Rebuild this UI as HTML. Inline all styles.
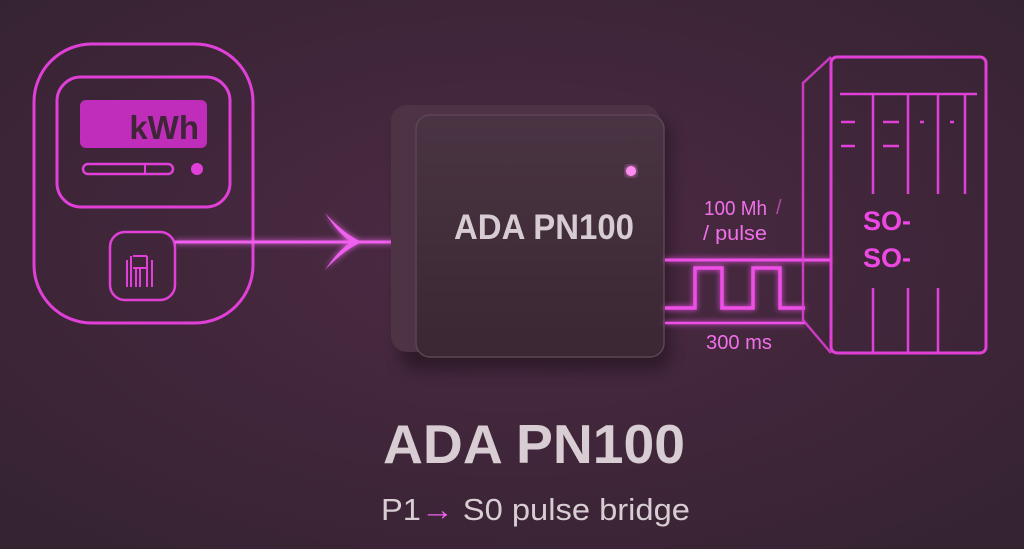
<!DOCTYPE html>
<html><head><meta charset="utf-8"><style>
html,body{margin:0;padding:0;width:1024px;height:549px;overflow:hidden;background:#3b2535}
svg{display:block}
</style></head><body>
<svg width="1024" height="549" viewBox="0 0 1024 549" xmlns="http://www.w3.org/2000/svg" font-family="Liberation Sans, sans-serif">
<defs>
<radialGradient id="bg" cx="0.5" cy="0.45" r="0.7">
<stop offset="0" stop-color="#4d2a44"/><stop offset="1" stop-color="#352331"/>
</radialGradient>
<linearGradient id="face" x1="0" y1="0" x2="0" y2="1">
<stop offset="0" stop-color="#4a3443"/><stop offset="1" stop-color="#3a2733"/>
</linearGradient>
<filter id="glow" x="-20%" y="-20%" width="140%" height="140%"><feGaussianBlur stdDeviation="3" result="b"/><feMerge><feMergeNode in="b"/><feMergeNode in="SourceGraphic"/></feMerge></filter>
<filter id="sh" x="-20%" y="-20%" width="140%" height="140%"><feGaussianBlur stdDeviation="8"/></filter>
</defs>
<rect width="1024" height="549" fill="url(#bg)"/>
<g fill="none" stroke="#e040d8" stroke-width="3">
<rect x="34" y="44" width="219" height="279" rx="58"/>
<rect x="57" y="77" width="173" height="130" rx="24"/>
<rect x="83" y="164" width="90" height="10" rx="5" stroke-width="2.5"/>
<line x1="145" y1="164" x2="145" y2="174" stroke-width="2"/>
<rect x="110" y="232" width="65" height="68" rx="15" stroke-width="2.5"/>
<g stroke-width="2"><path d="M127 260v27M131 256v31M133 256h14M136 268v19M140 268v19M147 256v31M152 260v27M133 268h14"/></g>
</g>
<rect x="80" y="100" width="127" height="48" rx="6" fill="#c02dbb"/>
<text x="199" y="139" text-anchor="end" font-size="33" font-weight="bold" fill="#3e2537">kWh</text>
<circle cx="197" cy="169" r="6" fill="#e040d8"/>
<g filter="url(#glow)">
<line x1="175" y1="242" x2="400" y2="242" stroke="#f060ee" stroke-width="3"/>
<path d="M325 213 Q345 235 362 242 Q345 249 325 270 Q340 248 352 242 Q340 236 325 213Z" fill="#f060ee"/>
</g>
<rect x="400" y="120" width="270" height="250" rx="18" fill="#000" opacity="0.35" filter="url(#sh)"/>
<rect x="391" y="105" width="269" height="247" rx="16" fill="#4d3343"/>
<rect x="416" y="115" width="248" height="242" rx="14" fill="url(#face)" stroke="#5d4556" stroke-width="1.5"/>
<circle cx="631" cy="171" r="5" fill="#ff8cf0" filter="url(#glow)"/>
<text x="544" y="239" text-anchor="middle" font-size="35" font-weight="bold" fill="#d6ccd2" textLength="180" lengthAdjust="spacingAndGlyphs">ADA PN100</text>
<g stroke="#ee50e6" fill="none" filter="url(#glow)">
<line x1="665" y1="260" x2="831" y2="260" stroke-width="3"/>
<path d="M665 308 H695 V268 H722 V308 H753 V268 H780 V308 H805" stroke-width="3.5"/>
<line x1="665" y1="323" x2="805" y2="323" stroke-width="2.5"/>
</g>
<g fill="#f070ea" font-size="20">
<text x="704" y="215" textLength="63" lengthAdjust="spacingAndGlyphs">100 Mh</text><text x="776" y="214" fill="#b04aa8">/</text>
<text x="703" y="240" textLength="64" lengthAdjust="spacingAndGlyphs">/ pulse</text>
<text x="706" y="349" textLength="66" lengthAdjust="spacingAndGlyphs">300 ms</text>
</g>
<g fill="none" stroke="#e040d8" stroke-width="3">
<path d="M831 57 L803 83 V320 L831 353" stroke-width="2.5" opacity="0.85"/>
<rect x="831" y="57" width="155" height="296" rx="6"/>
<line x1="840" y1="94" x2="977" y2="94" stroke-width="2.5"/>
<path d="M873 94V194M908 94V194M938 94V194M965 94V194M873 288V353M908 288V353M938 288V353" stroke-width="2.5"/>
<path d="M841 122h14M883 122h16M920 122h4M950 122h4M841 146h14M883 146h16" stroke-width="2.5"/>
</g>
<g fill="#ee48e4" font-size="27" font-weight="bold">
<text x="863" y="230">SO-</text><text x="863" y="267">SO-</text>
</g>
<text x="534" y="463" text-anchor="middle" font-size="55" font-weight="bold" fill="#d9cdd4" textLength="302" lengthAdjust="spacingAndGlyphs">ADA PN100</text>
<text x="381" y="520" font-size="31" fill="#d9cdd4" textLength="309" lengthAdjust="spacingAndGlyphs">P1<tspan fill="#f060ee" font-weight="bold">→</tspan> S0 pulse bridge</text>
</svg>
</body></html>
